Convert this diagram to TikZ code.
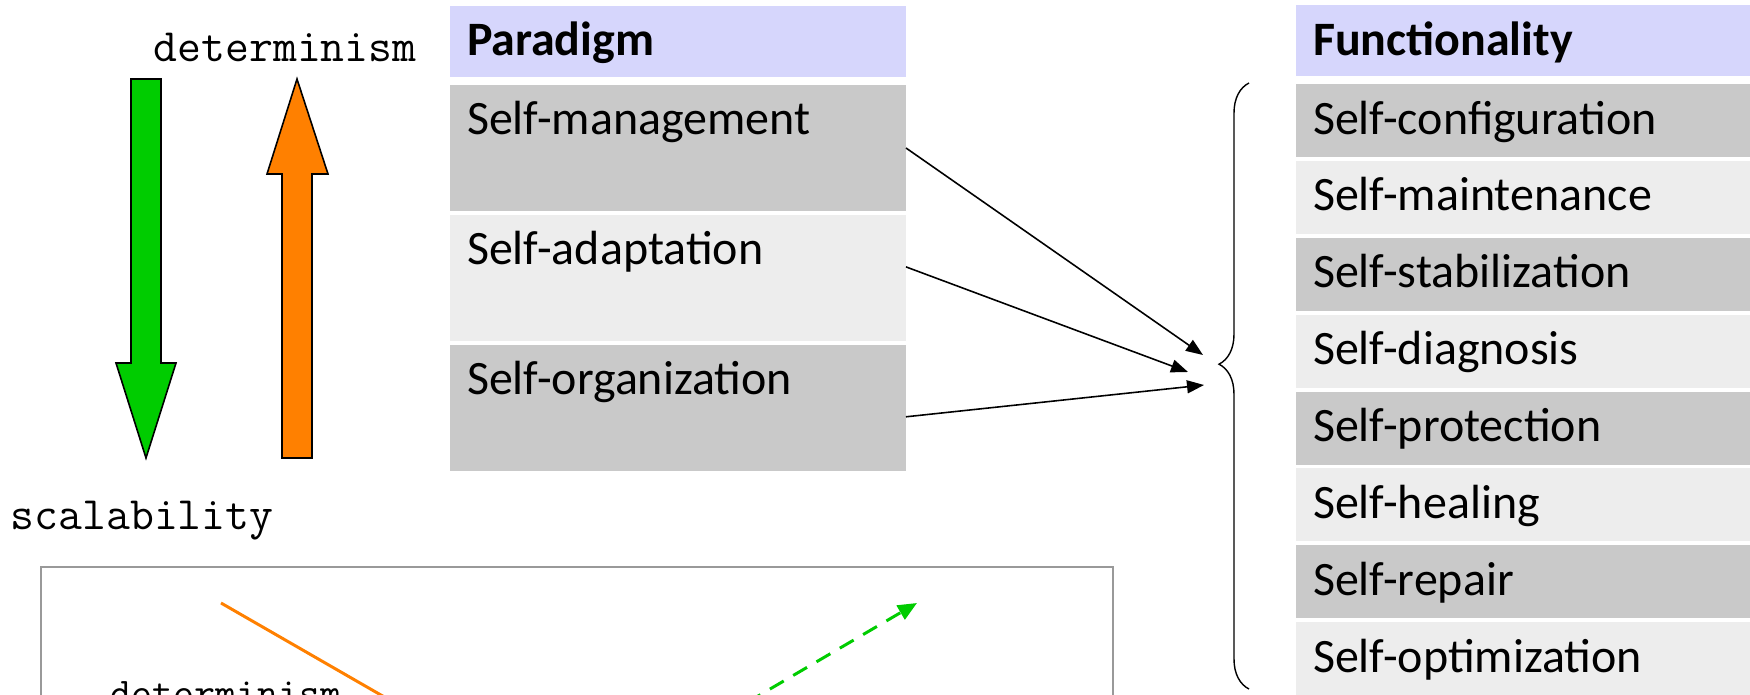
\documentclass[tikz,border=0pt]{standalone}
\usepackage{fontspec}
\setmainfont{Carlito}
\usetikzlibrary{arrows.meta,positioning,decorations.pathreplacing}
\usepackage{xcolor}

\definecolor{titlefill}{RGB}{214,214,252}
\definecolor{darkfill}{RGB}{201,201,201}
\definecolor{lightfill}{RGB}{237,237,237}
\definecolor{framegray}{RGB}{153,153,153}
\definecolor{scalegreen}{RGB}{0,204,0}
\definecolor{detorange}{RGB}{255,128,0}

\tikzset{
  cell/.style={rectangle, inner xsep=1.7mm, inner ysep=0pt, outer sep=0pt, align=left, text height=5mm,
               font=\fontsize{13.65pt}{16pt}\selectfont},
  phead/.style={cell, anchor=north west, fill=titlefill, text width=42.2mm, text depth=2.1mm,
                font=\fontsize{13.65pt}{16pt}\selectfont\bfseries},
  pdark/.style={cell, fill=darkfill, text width=42.2mm, text depth=7.6mm},
  plight/.style={cell, fill=lightfill, text width=42.2mm, text depth=7.6mm},
  fhead/.style={cell, anchor=north west, fill=titlefill, text width=44.6mm, text depth=2.1mm,
                font=\fontsize{13.65pt}{16pt}\selectfont\bfseries},
  fdark/.style={cell, fill=darkfill, text width=44.6mm, text depth=2.3mm},
  flight/.style={cell, fill=lightfill, text width=44.6mm, text depth=2.3mm},
  axislabel/.style={anchor=base west, inner sep=0pt, font=\ttfamily\fontsize{13.2pt}{15pt}\selectfont},
  blockarrow/.style={draw=black, line width=0.45pt, line join=miter},
  feed/.style={->, line width=0.45pt}
}

\begin{document}
\begin{tikzpicture}[x=0.1mm,y=-0.1mm,node distance=0.39mm,>={Triangle[length=1.7mm,width=1.3mm]}]
\useasboundingbox (0,0) rectangle (1750,695);
\clip (0,0) rectangle (1750,695);

% the two opposing block arrows
\draw[blockarrow, fill=scalegreen] (131,79) -- (161,79) -- (161,363) -- (176,363) -- (146,458) -- (116,363) -- (131,363) -- cycle;
\draw[blockarrow, fill=detorange] (282,458) -- (312,458) -- (312,174) -- (328,174) -- (297,79) -- (267,174) -- (282,174) -- cycle;
\node[axislabel] (det)  at (153,62)  {determinism};
\node[axislabel] (scal) at (10,529)  {scalability};

% paradigm column
\node[phead]  (ph) at (450,6)          {Paradigm};
\node[pdark]  (pm) [below=0.8mm of ph] {Self-management};
\node[plight] (pa) [below=of pm]       {Self-adaptation};
\node[pdark]  (po) [below=of pa]       {Self-organization};

% functionality column
\node[fhead]  (fh)  at (1296,5)          {Functionality};
\node[fdark]  (fc)  [below=0.8mm of fh]  {Self-configuration};
\node[flight] (fmt) [below=of fc]        {Self-maintenance};
\node[fdark]  (fst) [below=of fmt]       {Self-stabilization};
\node[flight] (fdg) [below=of fst]       {Self-diagnosis};
\node[fdark]  (fpr) [below=of fdg]       {Self-protection};
\node[flight] (fhe) [below=of fpr]       {Self-healing};
\node[fdark]  (frp) [below=of fhe]       {Self-repair};
\node[flight] (fop) [below=of frp]       {Self-optimization};

% brace and the arrows running into it
\coordinate (btop) at (1249,83);
\coordinate (bbot) at (1249,689);
\draw[line width=0.4pt, decorate, decoration={brace, amplitude=3mm, aspect=0.536}] (bbot) -- (btop);

\coordinate (t1) at (1203,355);
\coordinate (t2) at (1188,372);
\coordinate (t3) at (1204,385);
\path (pm.east)               edge [feed] (t1)
      ([yshift=1.1mm]pa.east)  edge [feed] (t2)
      ([yshift=-0.9mm]po.east) edge [feed] (t3);

% lower panel
\draw[framegray, line width=0.6pt] (41,567) rectangle (1113,760);
\draw[detorange, line width=0.85pt] (221,603) -- (400,706);
\draw[scalegreen, line width=0.85pt, dash pattern=on 1.6mm off 1.1mm,
      -{Triangle[length=1.9mm,width=1.6mm]}] (700,730) -- (917,603);
\node[axislabel, font=\ttfamily\fontsize{11.6pt}{14pt}\selectfont] (det2) at (110,706) {determinism};
\end{tikzpicture}
\end{document}
